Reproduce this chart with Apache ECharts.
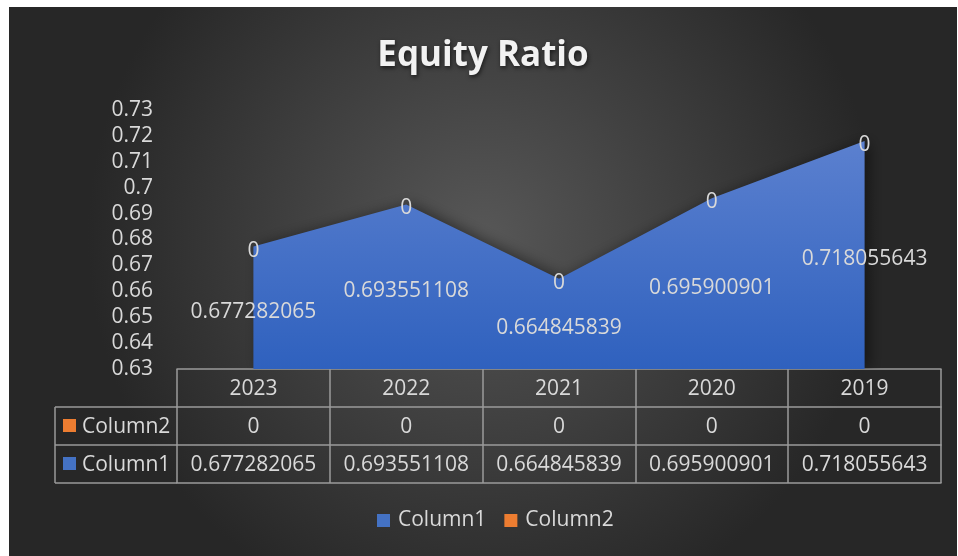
<!DOCTYPE html>
<html>
<head>
<meta charset="utf-8">
<script src="https://cdn.jsdelivr.net/npm/echarts@6/dist/echarts.min.js"></script>
<style>
  html, body { margin: 0; padding: 0; background: #fff; }
  #chart { position: absolute; left: 9px; top: 7px; width: 948px; height: 549px; }
</style>
</head>
<body>
<div id="chart"></div>
<script>
const years = ['2023', '2022', '2021', '2020', '2019'];
const column1 = [0.677282065, 0.693551108, 0.664845839, 0.695900901, 0.718055643];
const column2 = [0, 0, 0, 0, 0];
const yMin = 0.63, yMax = 0.73, yStep = 0.01;

const font = 'Open Sans';
const txt = '#d9d9d9';
const lineCol = '#9a9a9a';
const blue = '#4472C4';
const orange = '#ED7D31';

const chart = echarts.init(document.getElementById('chart'));

// one x axis per table row, stacked under the plot
const rowAxis = (offset, fmt, showLabel) => ({
  type: 'category',
  data: years,
  position: 'bottom',
  offset: offset,
  boundaryGap: true,
  axisLine: { show: true, lineStyle: { color: lineCol, width: 1.5 } },
  axisTick: { show: showLabel, length: 38, inside: false, lineStyle: { color: lineCol, width: 1.5 } },
  axisLabel: {
    show: showLabel, interval: 0, hideOverlap: false, margin: 0, lineHeight: 40, verticalAlign: 'top',
    color: txt, fontFamily: font, fontSize: 21, formatter: fmt
  },
  splitLine: { show: false }
});

chart.setOption({
  backgroundColor: {
    type: 'radial', x: 0.5, y: 0.42, r: 0.72,
    colorStops: [{ offset: 0, color: '#575757' }, { offset: 1, color: '#272727' }]
  },
  title: {
    text: 'Equity Ratio',
    left: 'center', top: 32, padding: 0,
    textStyle: {
      color: '#f2f2f2', fontFamily: font, fontWeight: 'bold', fontSize: 35,
      textShadowColor: 'rgba(0,0,0,0.6)', textShadowBlur: 4, textShadowOffsetX: 1, textShadowOffsetY: 2
    }
  },
  legend: {
    data: ['Column1', 'Column2'],
    bottom: 20, left: 363,
    icon: 'rect', itemWidth: 13, itemHeight: 13, itemGap: 18,
    textStyle: { color: txt, fontFamily: font, fontSize: 21, padding: [0, 0, 0, 3] }
  },
  grid: { left: 168, right: 16, top: 103, bottom: 187, containLabel: false, outerBoundsMode: 'none' },
  xAxis: [
    rowAxis(0, v => v, true),
    rowAxis(38, (v, i) => String(column2[i]), true),
    rowAxis(76, (v, i) => String(column1[i]), true),
    rowAxis(114, v => '', false)
  ],
  yAxis: {
    type: 'value', min: yMin, max: yMax, interval: yStep,
    axisLine: { show: false }, axisTick: { show: false }, splitLine: { show: false },
    axisLabel: { color: txt, fontFamily: font, fontSize: 21, margin: 24, showMinLabel: true, showMaxLabel: true, hideOverlap: false }
  },
  series: [
    {
      name: 'Column1', type: 'line', stack: 'total', color: blue,
      data: column1,
      symbol: 'none', lineStyle: { width: 0 },
      areaStyle: {
        opacity: 1,
        color: { type: 'linear', x: 0, y: 0, x2: 0, y2: 1,
          colorStops: [{ offset: 0, color: '#5b80cf' }, { offset: 1, color: '#2f61be' }] },
        shadowColor: 'rgba(0,0,0,0.45)', shadowBlur: 14, shadowOffsetX: 5, shadowOffsetY: 0
      },
      z: 2
    },
    {
      name: 'Column2', type: 'line', stack: 'total', color: orange,
      data: column2,
      symbol: 'circle', symbolSize: 0, lineStyle: { width: 0 },
      areaStyle: { opacity: 1 },
      label: { show: true, position: 'inside', offset: [0, 4], color: txt, fontFamily: font, fontSize: 21 },
      z: 3
    },
    {
      // invisible helper: puts Column1 values in the middle of the area, like Excel
      name: 'Column1 labels', type: 'bar', data: column1,
      barWidth: '100%', silent: true,
      itemStyle: { color: 'rgba(0,0,0,0)' },
      label: { show: true, position: 'inside', offset: [0, 4], color: txt, fontFamily: font, fontSize: 21 },
      z: 4
    }
  ],
  graphic: [
    // row header cells of the data table
    { type: 'line', shape: { x1: 46, y1: 400, x2: 168, y2: 400 }, style: { stroke: lineCol, lineWidth: 1.5 } },
    { type: 'line', shape: { x1: 46, y1: 438, x2: 168, y2: 438 }, style: { stroke: lineCol, lineWidth: 1.5 } },
    { type: 'line', shape: { x1: 46, y1: 476, x2: 168, y2: 476 }, style: { stroke: lineCol, lineWidth: 1.5 } },
    { type: 'line', shape: { x1: 46, y1: 400, x2: 46, y2: 476 }, style: { stroke: lineCol, lineWidth: 1.5 } },
    { type: 'rect', shape: { x: 54, y: 412, width: 13, height: 13 }, style: { fill: orange } },
    { type: 'text', x: 73, y: 420, style: { text: 'Column2', fill: txt, font: '21px "Open Sans"', verticalAlign: 'middle' } },
    { type: 'rect', shape: { x: 54, y: 450, width: 13, height: 13 }, style: { fill: blue } },
    { type: 'text', x: 73, y: 458, style: { text: 'Column1', fill: txt, font: '21px "Open Sans"', verticalAlign: 'middle' } }
  ]
});
</script>
</body>
</html>
